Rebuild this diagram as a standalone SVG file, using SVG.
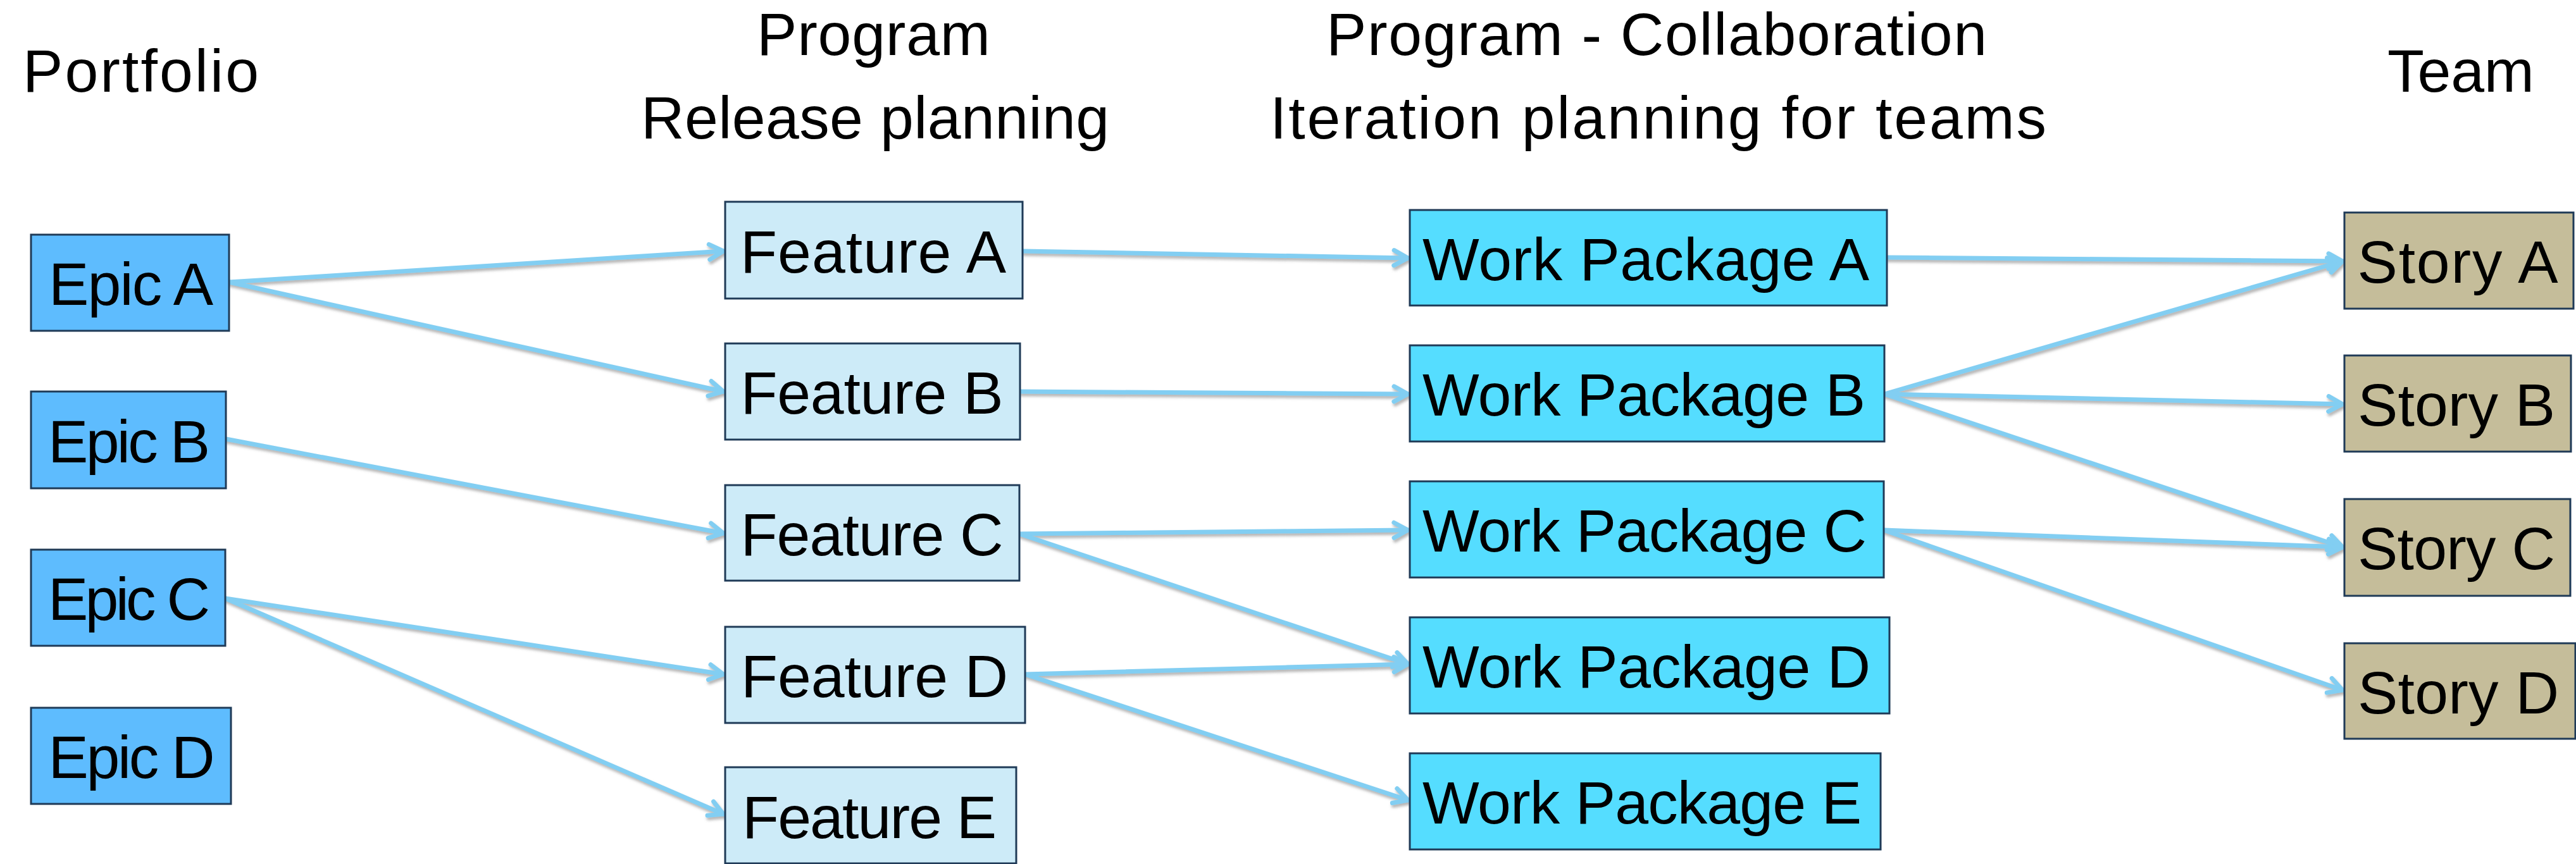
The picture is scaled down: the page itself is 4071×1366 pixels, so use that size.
<svg xmlns="http://www.w3.org/2000/svg" width="4071" height="1366" viewBox="0 0 4071 1366">
<style>
text{font-family:"Liberation Sans",Arial,sans-serif;font-size:95px;fill:#000}
.lbl{text-anchor:middle}
.box{stroke:#1F3A57;stroke-width:3}
.epic{fill:#5EBCFE}
.feat{fill:#CDEBF8}
.wp{fill:#55DDFF}
.story{fill:#C5BD9A}
.conn line{stroke:#82CEF2;stroke-width:7;stroke-linecap:round;marker-end:url(#arr)}
</style>
<defs>
<filter id="sh" x="-5%" y="-20%" width="110%" height="140%">
<feDropShadow dx="2" dy="4" stdDeviation="2" flood-color="#777" flood-opacity="0.55"/>
</filter>
<marker id="arr" markerUnits="userSpaceOnUse" viewBox="-30 -16 34 32" refX="0" refY="0" markerWidth="34" markerHeight="32" orient="auto">
<path d="M-22,-12 L0,0 L-22,12" fill="none" stroke="#82CEF2" stroke-width="7" stroke-linecap="round" stroke-linejoin="round"/>
</marker>
</defs>
<rect width="4071" height="1366" fill="#fff"/>
<g id="headers">
<text x="36" y="145" textLength="373">Portfolio</text>
<text x="1196" y="87" textLength="369">Program</text>
<text x="1013" y="219" textLength="740">Release planning</text>
<text x="2096" y="87" textLength="1044">Program - Collaboration</text>
<text x="2007" y="219" textLength="1227">Iteration planning for teams</text>
<text x="3773" y="145" textLength="232">Team</text>
</g>
<g id="connectors" class="conn" filter="url(#sh)">
<line x1="362" y1="446" x2="1143" y2="397"/>
<line x1="362" y1="446" x2="1143" y2="619"/>
<line x1="357" y1="694" x2="1143" y2="843"/>
<line x1="356" y1="946" x2="1143" y2="1066"/>
<line x1="356" y1="946" x2="1143" y2="1287"/>
<line x1="1616" y1="397" x2="2225" y2="408"/>
<line x1="1612" y1="619" x2="2225" y2="623"/>
<line x1="1611" y1="844" x2="2225" y2="838"/>
<line x1="1611" y1="844" x2="2225" y2="1050"/>
<line x1="1620" y1="1066" x2="2225" y2="1050"/>
<line x1="1620" y1="1066" x2="2225" y2="1265"/>
<line x1="2982" y1="407" x2="3702" y2="413"/>
<line x1="2978" y1="623" x2="3702" y2="413"/>
<line x1="2978" y1="623" x2="3702" y2="639"/>
<line x1="2978" y1="623" x2="3702" y2="865"/>
<line x1="2977" y1="838" x2="3702" y2="865"/>
<line x1="2977" y1="838" x2="3702" y2="1091"/>
</g>
<g id="epic-a"><rect class="box epic" x="49" y="371" width="313" height="152"/><text class="lbl" x="207" y="482" textLength="260">Epic A</text></g>
<g id="epic-b"><rect class="box epic" x="49" y="619" width="308" height="153"/><text class="lbl" x="204" y="731" textLength="256">Epic B</text></g>
<g id="epic-c"><rect class="box epic" x="49" y="869" width="307" height="152"/><text class="lbl" x="204" y="980" textLength="256">Epic C</text></g>
<g id="epic-d"><rect class="box epic" x="49" y="1119" width="316" height="152"/><text class="lbl" x="208" y="1230" textLength="263">Epic D</text></g>
<g id="feature-a"><rect class="box feat" x="1146" y="319" width="470" height="153"/><text class="lbl" x="1380" y="431" textLength="420">Feature A</text></g>
<g id="feature-b"><rect class="box feat" x="1146" y="543" width="466" height="152"/><text class="lbl" x="1378" y="654" textLength="415">Feature B</text></g>
<g id="feature-c"><rect class="box feat" x="1146" y="767" width="465" height="151"/><text class="lbl" x="1378" y="878" textLength="415">Feature C</text></g>
<g id="feature-d"><rect class="box feat" x="1146" y="991" width="474" height="152"/><text class="lbl" x="1382" y="1102" textLength="422">Feature D</text></g>
<g id="feature-e"><rect class="box feat" x="1146" y="1213" width="460" height="152"/><text class="lbl" x="1374" y="1325" textLength="402">Feature E</text></g>
<g id="wp-a"><rect class="box wp" x="2228" y="332" width="754" height="151"/><text class="lbl" x="2601" y="443" textLength="706">Work Package A</text></g>
<g id="wp-b"><rect class="box wp" x="2228" y="546" width="750" height="152"/><text class="lbl" x="2598" y="657" textLength="700">Work Package B</text></g>
<g id="wp-c"><rect class="box wp" x="2228" y="761" width="749" height="152"/><text class="lbl" x="2599" y="872" textLength="702">Work Package C</text></g>
<g id="wp-d"><rect class="box wp" x="2228" y="976" width="758" height="152"/><text class="lbl" x="2602" y="1087" textLength="708">Work Package D</text></g>
<g id="wp-e"><rect class="box wp" x="2228" y="1191" width="744" height="152"/><text class="lbl" x="2595" y="1302" textLength="694">Work Package E</text></g>
<g id="story-a"><rect class="box story" x="3705" y="336" width="362" height="152"/><text class="lbl" x="3884" y="447" textLength="317">Story A</text></g>
<g id="story-b"><rect class="box story" x="3705" y="562" width="358" height="152"/><text class="lbl" x="3882" y="673" textLength="312">Story B</text></g>
<g id="story-c"><rect class="box story" x="3705" y="789" width="357" height="153"/><text class="lbl" x="3882" y="900" textLength="312">Story C</text></g>
<g id="story-d"><rect class="box story" x="3705" y="1017" width="365" height="151"/><text class="lbl" x="3885" y="1128" textLength="318">Story D</text></g>
</svg>
